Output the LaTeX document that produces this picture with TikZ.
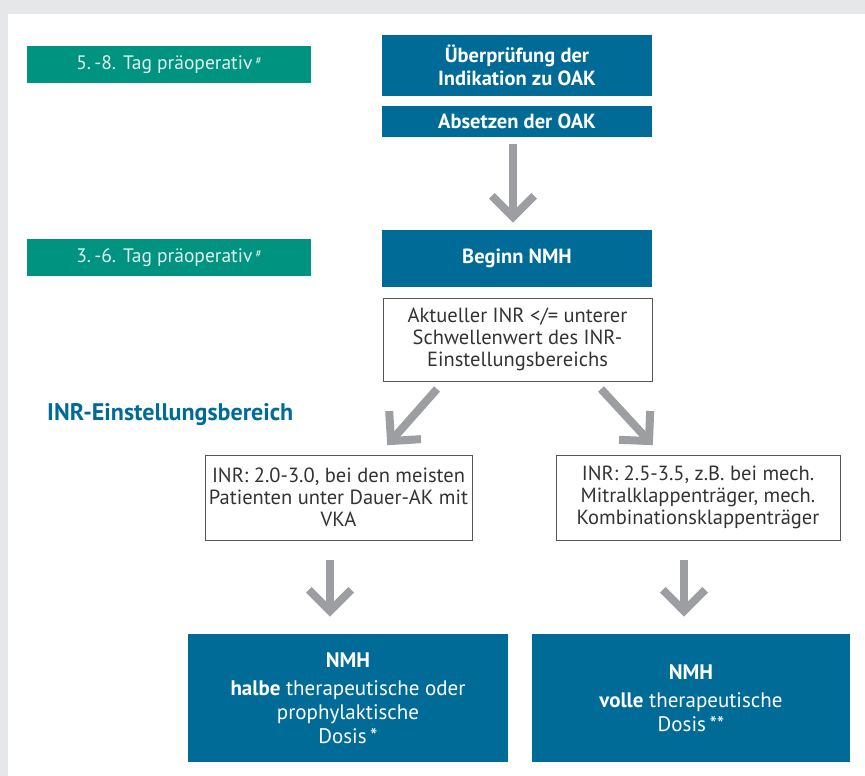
\documentclass[tikz,border=0pt]{standalone}
\usepackage{fontspec}
\setmainfont{PT Sans}
\usetikzlibrary{calc}
\definecolor{bgray}{HTML}{E6E7E8}
\definecolor{nblue}{HTML}{006B97}
\definecolor{ngreen}{HTML}{009380}
\definecolor{agray}{HTML}{9D9EA2}
\definecolor{tgray}{HTML}{333333}
\definecolor{bordergray}{HTML}{555555}
\newcommand\drawbigarrow[2]{%
  \draw[bigarrow] (#1) -- (#2);
  \draw[bigarrow, line join=miter, miter limit=10] ($(#2)!30pt!45:(#1)$) -- (#2) -- ($(#2)!30pt!-45:(#1)$);}
\begin{document}
\begin{tikzpicture}[x=1pt,y=1pt,
  bluebox/.style={fill=nblue, text=white, font=\bfseries\fontsize{20.5}{22.5}\selectfont, align=center, inner sep=0pt, minimum width=270pt},
  greenbox/.style={fill=ngreen, text=white!88!ngreen, font=\fontsize{19.5}{22}\selectfont, inner sep=0pt, minimum width=284pt, minimum height=37pt},
  whitebox/.style={draw=bordergray, line width=0.8pt, fill=white, text=tgray, align=center, inner sep=0pt, font=\fontsize{20.5}{21.8}\selectfont},
  dosebox/.style={fill=nblue, text=white, align=center, inner sep=0pt, minimum height=128pt, font=\fontsize{21}{24}\selectfont},
  bigarrow/.style={draw=agray, line width=8pt}
]
\useasboundingbox (0,0) rectangle (865,776);
\fill[bgray] (0,0) rectangle (865,776);
\fill[white] (8,0) rectangle (865,762);

\node[greenbox] (g1) at (169,711.5) {5.\,-8. Tag präoperativ\,\raisebox{0.5ex}{\fontsize{11}{11}\selectfont\#}};
\node[greenbox] (g2) at (169,518.5) {3.\,-6. Tag präoperativ\,\raisebox{0.5ex}{\fontsize{11}{11}\selectfont\#}};

\node[bluebox, minimum height=61pt] (ind) at (517,710.5) {Überprüfung der\\Indikation zu OAK};
\node[bluebox, minimum height=31pt] (abs) at (517,654.5) {Absetzen der OAK};
\node[bluebox, minimum height=57pt] (beg) at (517,517.5) {Beginn NMH};
\node[whitebox, minimum width=269pt, minimum height=83pt] (akt) at (517.5,436.5) {Aktueller INR </= unterer\\Schwellenwert des INR-\\Einstellungsbereichs};

\node[anchor=west, text=nblue, font=\bfseries\fontsize{24}{28}\selectfont, inner sep=0pt] (lab) at (47,361) {INR-Einstellungsbereich};

\node[whitebox, minimum width=267pt, minimum height=85pt] (left) at (338.5,278.5) {INR: 2.0-3.0, bei den meisten\\Patienten unter Dauer-AK mit\\VKA};
\node[whitebox, minimum width=284pt, minimum height=85pt] (right) at (698,278.5) {INR: 2.5-3.5, z.B. bei mech.\\Mitralklappenträger, mech.\\Kombinationsklappenträger};

\node[dosebox, minimum width=320pt] (dl) at (348,78) {\textbf{NMH}\\[4pt]\textbf{halbe} therapeutische oder\\prophylaktische\\Dosis\,*};
\node[dosebox, minimum width=318pt] (dr) at (691,78) {\textbf{NMH}\\[4pt]\textbf{volle} therapeutische\\Dosis\,**};

\coordinate (a1s) at (513,632);
\coordinate (a1t) at (513,559);
\coordinate (a2s) at (437,387);
\coordinate (a2t) at (391,335);
\coordinate (a3s) at (601,387);
\coordinate (a3t) at (649,335);
\coordinate (a4s) at (330,216);
\coordinate (a4t) at (330,165);
\coordinate (a5s) at (684,216);
\coordinate (a5t) at (684,165);
\drawbigarrow{a1s}{a1t}
\drawbigarrow{a2s}{a2t}
\drawbigarrow{a3s}{a3t}
\drawbigarrow{a4s}{a4t}
\drawbigarrow{a5s}{a5t}
\end{tikzpicture}
\end{document}
